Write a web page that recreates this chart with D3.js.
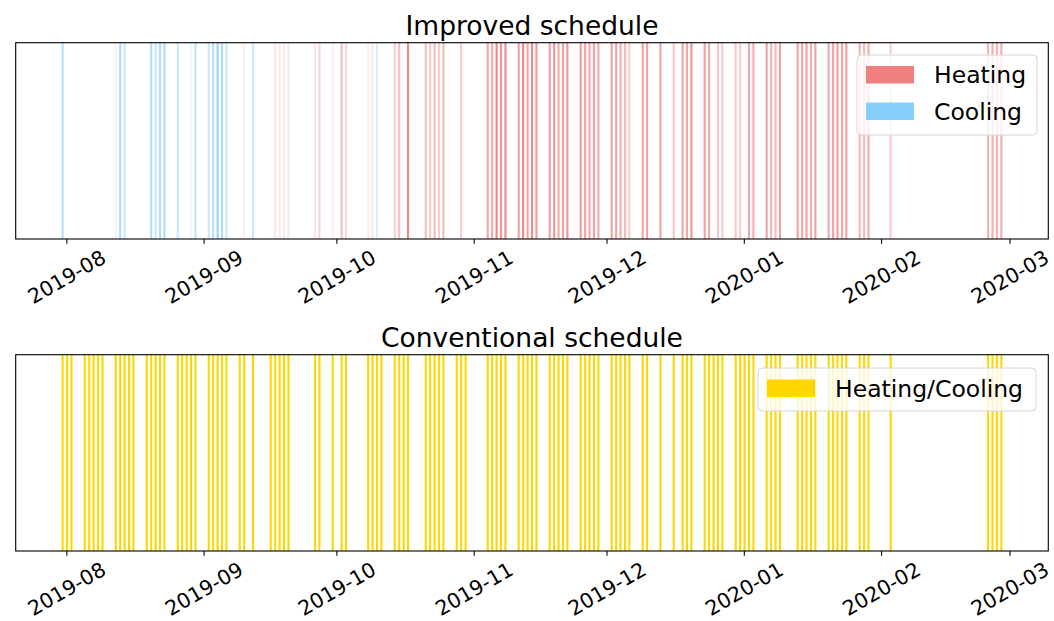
<!DOCTYPE html>
<html>
<head>
<meta charset="utf-8">
<script src="https://cdn.jsdelivr.net/npm/d3@7"></script>
<style>
  html, body { margin: 0; padding: 0; background: #fff; }
  svg { display: block; font-family: "DejaVu Sans", sans-serif; }
</style>
</head>
<body>
<svg id="chart" width="1054" height="621"></svg>
<script>
// ---------------- data ----------------
const onHour = 4; // hour of day at which each on-period is drawn

const heatingDates = [
  "2019-08-12","2019-09-10","2019-09-17","2019-09-18","2019-09-19","2019-09-20",
  "2019-09-26","2019-09-27","2019-09-30","2019-10-02","2019-10-03","2019-10-08","2019-10-09",
  "2019-10-14","2019-10-15","2019-10-17",
  "2019-10-21","2019-10-22","2019-10-23","2019-10-24","2019-10-25","2019-10-29",
  "2019-11-04","2019-11-05","2019-11-06","2019-11-07","2019-11-08",
  "2019-11-11","2019-11-12","2019-11-13","2019-11-14","2019-11-15",
  "2019-11-18","2019-11-19","2019-11-20","2019-11-21","2019-11-22",
  "2019-11-25","2019-11-26","2019-11-27","2019-11-28","2019-11-29",
  "2019-12-02","2019-12-03","2019-12-04","2019-12-05","2019-12-06",
  "2019-12-09","2019-12-10","2019-12-13","2019-12-16","2019-12-18","2019-12-19","2019-12-20",
  "2019-12-23","2019-12-24","2019-12-26","2019-12-27","2019-12-30","2019-12-31",
  "2020-01-02","2020-01-03","2020-01-06","2020-01-07","2020-01-08","2020-01-09",
  "2020-01-13","2020-01-14","2020-01-15","2020-01-16","2020-01-17",
  "2020-01-20","2020-01-21","2020-01-22","2020-01-23","2020-01-24",
  "2020-01-27","2020-01-28","2020-01-29","2020-02-03",
  "2020-02-25","2020-02-26","2020-02-27","2020-02-28"
];
const heatingLevels = [
  0.12,0.15,0.20,0.20,0.18,0.18,
  0.20,0.35,0.15,0.50,0.30,0.15,0.20,
  0.40,0.50,0.95,
  0.50,0.40,0.55,0.40,0.55,0.40,
  0.70,0.65,0.95,0.85,0.90,
  0.75,0.95,0.70,0.90,0.80,
  0.75,0.85,0.65,0.75,0.85,
  0.80,0.75,0.70,0.75,0.70,
  0.75,0.70,0.65,0.55,0.40,
  0.75,0.75,0.75,0.45,0.75,0.70,0.85,
  0.75,0.70,0.45,0.40,0.45,0.40,
  0.70,0.65,0.75,0.60,0.55,0.75,
  0.75,0.70,0.75,0.65,0.75,
  0.70,0.75,0.75,0.70,0.75,
  0.60,0.55,0.65,0.40,
  0.60,0.65,0.60,0.65
];

const coolingDates = [
  "2019-07-31","2019-08-13","2019-08-14","2019-08-20","2019-08-21","2019-08-22","2019-08-23",
  "2019-08-26","2019-08-29","2019-08-30","2019-09-02","2019-09-03","2019-09-04","2019-09-05",
  "2019-09-06","2019-09-12","2019-10-10"
];
const coolingLevels = [
  0.65,0.70,0.45,0.65,0.45,0.70,0.70,
  0.45,0.15,0.55,0.45,0.65,0.90,0.70,
  0.45,0.45,0.30
];

const conventionalDates = [
  "2019-07-31","2019-08-01","2019-08-02",
  "2019-08-05","2019-08-06","2019-08-07","2019-08-08","2019-08-09",
  "2019-08-12","2019-08-13","2019-08-14","2019-08-15","2019-08-16",
  "2019-08-19","2019-08-20","2019-08-21","2019-08-22","2019-08-23",
  "2019-08-26","2019-08-27","2019-08-28","2019-08-29","2019-08-30",
  "2019-09-02","2019-09-03","2019-09-04","2019-09-05","2019-09-06",
  "2019-09-09","2019-09-10","2019-09-12",
  "2019-09-16","2019-09-17","2019-09-18","2019-09-19","2019-09-20",
  "2019-09-26","2019-09-27","2019-09-30","2019-10-02","2019-10-03",
  "2019-10-08","2019-10-09","2019-10-10","2019-10-11",
  "2019-10-14","2019-10-15","2019-10-16","2019-10-17",
  "2019-10-21","2019-10-22","2019-10-23","2019-10-24","2019-10-25",
  "2019-10-28","2019-10-29","2019-10-30",
  "2019-11-04","2019-11-05","2019-11-06","2019-11-07","2019-11-08",
  "2019-11-11","2019-11-12","2019-11-13","2019-11-14","2019-11-15",
  "2019-11-18","2019-11-19","2019-11-20","2019-11-21","2019-11-22",
  "2019-11-25","2019-11-26","2019-11-27","2019-11-28","2019-11-29",
  "2019-12-02","2019-12-03","2019-12-04","2019-12-05","2019-12-06",
  "2019-12-09","2019-12-10","2019-12-13","2019-12-16","2019-12-18","2019-12-19","2019-12-20",
  "2019-12-23","2019-12-24","2019-12-25","2019-12-26","2019-12-27",
  "2019-12-30","2019-12-31","2020-01-01","2020-01-02","2020-01-03",
  "2020-01-06","2020-01-07","2020-01-08","2020-01-09",
  "2020-01-13","2020-01-14","2020-01-15","2020-01-16","2020-01-17",
  "2020-01-20","2020-01-21","2020-01-22","2020-01-23","2020-01-24",
  "2020-01-27","2020-01-28","2020-01-29","2020-02-03",
  "2020-02-25","2020-02-26","2020-02-27","2020-02-28"
];

const tickLabels = ["2019-08","2019-09","2019-10","2019-11","2019-12","2020-01","2020-02","2020-03"];
const titles = ["Improved schedule", "Conventional schedule"];
const topLegend = ["Heating", "Cooling"];
const bottomLegend = ["Heating/Cooling"];

// ---------------- rendering ----------------
const FONT = '"DejaVu Sans", sans-serif';
const svg = d3.select("#chart");
const parseDay = d3.timeParse("%Y-%m-%d");
const parseMonth = d3.timeParse("%Y-%m");
const at = s => d3.timeHour.offset(parseDay(s), onHour);

const colors = { heat: "#F08080", cool: "#87CEFA", conv: "#FFD700" };

const heating = heatingDates.map((d, i) => ({ t: at(d), a: heatingLevels[i] }));
const cooling = coolingDates.map((d, i) => ({ t: at(d), a: coolingLevels[i] }));
const conventional = conventionalDates.map(d => ({ t: at(d), a: 1 }));

// x limits like matplotlib autoscale: data extent + 5% margins
const allT = heating.concat(cooling, conventional).map(d => +d.t);
const tMin = d3.min(allT), tMax = d3.max(allT), span = tMax - tMin;
const x = d3.scaleTime()
  .domain([new Date(tMin - 0.05 * span), new Date(tMax + 0.05 * span)])
  .range([15.7, 1048.3]);

const panels = [
  { top: 42.7, bottom: 239, title: titles[0],
    series: [{ data: cooling, color: colors.cool }, { data: heating, color: colors.heat }],
    legend: { x: 857, y: 55, w: 180, h: 80,
      items: [{ label: topLegend[0], color: colors.heat, cy: 75 },
              { label: topLegend[1], color: colors.cool, cy: 111.5 }] } },
  { top: 354.7, bottom: 551, title: titles[1],
    series: [{ data: conventional, color: colors.conv }],
    legend: { x: 758, y: 368, w: 278, h: 43,
      items: [{ label: bottomLegend[0], color: colors.conv, cy: 388.5 }] } }
];

const tickVals = tickLabels.map(parseMonth);

panels.forEach(p => {
  const g = svg.append("g");
  const y = d3.scaleLinear().domain([0, 1]).range([p.bottom, p.top]);

  // vertical on-period lines
  p.series.forEach(s => {
    g.append("g").selectAll("line").data(s.data).join("line")
      .attr("x1", d => x(d.t)).attr("x2", d => x(d.t))
      .attr("y1", y(0)).attr("y2", y(1))
      .attr("stroke", s.color)
      .attr("stroke-opacity", d => d.a)
      .attr("stroke-width", 2.1);
  });

  // frame
  g.append("rect")
    .attr("x", x.range()[0]).attr("y", p.top)
    .attr("width", x.range()[1] - x.range()[0]).attr("height", p.bottom - p.top)
    .attr("fill", "none").attr("stroke", "#000").attr("stroke-width", 1.1);

  // x axis
  const ax = g.append("g").attr("transform", `translate(0,${p.bottom})`)
    .call(d3.axisBottom(x).tickValues(tickVals).tickSize(4.8).tickPadding(4.6)
      .tickFormat((d, i) => tickLabels[i]));
  ax.attr("font-family", FONT).attr("font-size", null);
  ax.select(".domain").remove();
  ax.selectAll(".tick line").attr("stroke", "#000").attr("stroke-width", 1.1);
  ax.selectAll(".tick text")
    .attr("fill", "#000")
    .style("font-family", FONT)
    .style("font-size", "20.5px")
    .attr("text-anchor", "middle")
    .attr("y", 0)
    .attr("transform", "translate(0,38) rotate(-30)")
    .attr("dy", "0.346em");

  // title
  g.append("text")
    .attr("x", (x.range()[0] + x.range()[1]) / 2)
    .attr("y", p.top - 7.8)
    .attr("text-anchor", "middle")
    .style("font-family", FONT)
    .style("font-size", "26.5px")
    .attr("fill", "#000")
    .text(p.title);

  // legend
  const L = p.legend;
  const lg = g.append("g");
  lg.append("rect")
    .attr("x", L.x).attr("y", L.y).attr("width", L.w).attr("height", L.h)
    .attr("rx", 4).attr("fill", "#fff").attr("fill-opacity", 0.8)
    .attr("stroke", "#d6d6d6").attr("stroke-width", 1);
  L.items.forEach(it => {
    lg.append("rect")
      .attr("x", L.x + 9).attr("y", it.cy - 9).attr("width", 48).attr("height", 17.5)
      .attr("fill", it.color);
    lg.append("text")
      .attr("x", L.x + 77).attr("y", it.cy)
      .attr("dy", "0.36em")
      .style("font-family", FONT)
      .style("font-size", "23.5px")
      .attr("fill", "#000")
      .text(it.label);
  });
});
</script>
</body>
</html>
